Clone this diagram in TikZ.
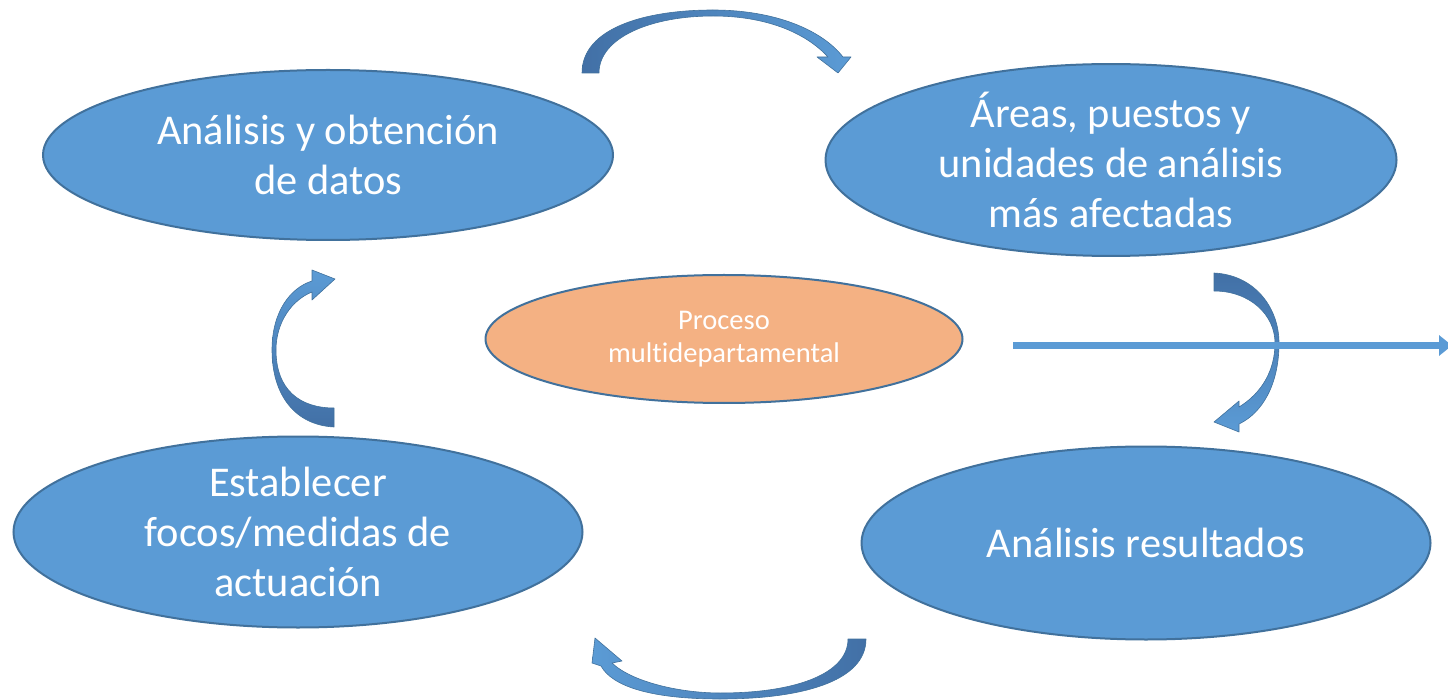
\documentclass[tikz,border=0pt]{standalone}
\usepackage{fontspec}
\setmainfont{Carlito}[Ligatures=NoCommon]
\usetikzlibrary{shapes.geometric,arrows.meta}
\definecolor{blu}{HTML}{5B9BD5}
\definecolor{bord}{HTML}{41719C}
\definecolor{ora}{HTML}{F4B183}
\definecolor{darkb}{HTML}{4270A6}
\definecolor{lightb}{HTML}{5B9BD5}
\begin{document}
\begin{tikzpicture}[x=1pt,y=-1pt,
  bigell/.style={ellipse, draw=bord, line width=2pt, fill=blu, text=white, align=center, inner sep=0pt, font=\fontsize{42.4}{50}\selectfont},
  midell/.style={ellipse, draw=bord, line width=2pt, fill=ora, text=white, align=center, inner sep=0pt, font=\fontsize{28.5}{33}\selectfont},
  bendarrow/.style={draw=bord, line width=0.6pt, line join=round}]
\useasboundingbox (0,0) rectangle (1448,700);

\node[bigell, minimum width=570pt, minimum height=170pt] (datos) at (328,155) {Análisis y obtención\\de datos};
\node[bigell, minimum width=571pt, minimum height=186pt] (areas) at (1111,160) {Áreas, puestos y\\unidades de análisis\\más afectadas};
\node[midell, minimum width=477pt, minimum height=128pt] (proc) at (724,339) {Proceso\\multidepartamental};
\node[bigell, minimum width=569pt, minimum height=191pt] (focos) at (298,532) {Establecer\\focos/medidas de\\actuación};
\node[bigell, minimum width=569pt, minimum height=193pt] (res) at (1146,543) {Análisis resultados};

% top curved arrow (datos -> areas)
\path[bendarrow, left color=darkb, right color=lightb]
  (582,73) .. controls (582,28) and (645,10) .. (713,10)
  .. controls (775,10) and (822,30) .. (843,57)
  -- (851,57) -- (838,73) -- (817,57) -- (828,57)
  .. controls (805,32) and (765,16) .. (713,16)
  .. controls (650,16) and (599,38) .. (599,73) -- cycle;

% right curved arrow (areas -> res)
\path[bendarrow, top color=darkb, bottom color=lightb]
  (1214,273) .. controls (1255,275) and (1279,308) .. (1279,343)
  .. controls (1279,385) and (1262,413) .. (1239,424)
  -- (1239,432) -- (1214,422) -- (1239,401) -- (1239,407)
  .. controls (1262,393) and (1275,370) .. (1275,343)
  .. controls (1275,315) and (1250,291) .. (1214,291) -- cycle;

% bottom curved arrow (res -> focos)
\path[bendarrow, left color=lightb, right color=darkb]
  (866,639) .. controls (866,682) and (800,699) .. (720,699)
  .. controls (650,699) and (612,686) .. (601,666)
  -- (592,663) -- (595,638) -- (622,661) -- (612,663)
  .. controls (632,682) and (680,693) .. (720,693)
  .. controls (800,693) and (848,672) .. (848,639) -- cycle;

% left curved arrow (focos -> datos)
\path[bendarrow, top color=lightb, bottom color=darkb]
  (334,427) .. controls (295,425) and (272,395) .. (272,350)
  .. controls (272,312) and (290,288) .. (312,281)
  -- (312,270) -- (335,279) -- (312,300) -- (312,292)
  .. controls (292,300) and (276,322) .. (276,350)
  .. controls (276,390) and (300,408) .. (334,408) -- cycle;

% horizontal arrow
\coordinate (h1) at (1013,345.5);
\coordinate (h2) at (1452,345.5);
\draw[blu, line width=6.5pt, -{Triangle[length=13pt,width=20pt]}] (h1) -- (h2);
\end{tikzpicture}
\end{document}
